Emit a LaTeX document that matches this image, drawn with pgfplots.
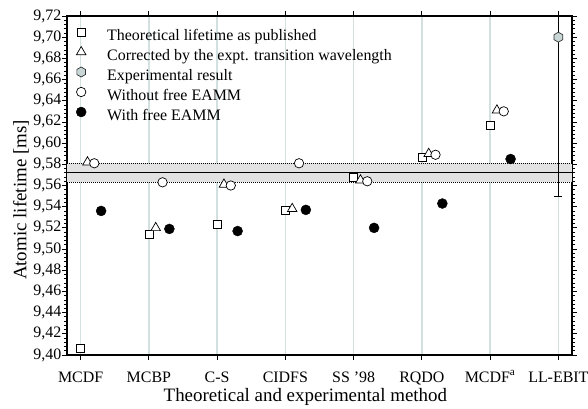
\documentclass[border=0pt]{standalone}
\usepackage{fontspec}
\setmainfont{Liberation Serif}
\usepackage{pgfplots}
\pgfplotsset{compat=1.18}
\definecolor{gridc}{HTML}{D3E0E0}
\definecolor{bandc}{HTML}{E2E2E2}
\definecolor{hexc}{HTML}{C8D6D6}
\pgfdeclareplotmark{hexagon}{%
  \pgfpathmoveto{\pgfpointpolar{90}{\pgfplotmarksize}}%
  \pgfpathlineto{\pgfpointpolar{150}{\pgfplotmarksize}}%
  \pgfpathlineto{\pgfpointpolar{210}{\pgfplotmarksize}}%
  \pgfpathlineto{\pgfpointpolar{270}{\pgfplotmarksize}}%
  \pgfpathlineto{\pgfpointpolar{330}{\pgfplotmarksize}}%
  \pgfpathlineto{\pgfpointpolar{30}{\pgfplotmarksize}}%
  \pgfpathclose
  \pgfusepathqfillstroke
}
\begin{document}
\begin{tikzpicture}
\begin{axis}[
  scale only axis, width=505bp, height=339bp,
  xmin=-0.2, xmax=7.2, ymin=9.40, ymax=9.72,
  xtick={0,1,2,3,4,5,6,7},
  xticklabels={MCDF,MCBP,C-S,CIDFS,{SS '98},RQDO,MCDF\textsuperscript{a},LL-EBIT},
  ytick={9.40,9.42,9.44,9.46,9.48,9.50,9.52,9.54,9.56,9.58,9.60,9.62,9.64,9.66,9.68,9.70,9.72},
  minor y tick num=4,
  tick align=outside, major tick length=5bp, minor tick length=3bp,
  every tick/.style={black, line width=0.8bp},
  xmajorgrids, grid style={gridc, line width=1.3bp},
  axis line style={line width=1.1bp},
  /pgf/number format/assume math mode=true,
  tick label style={font=\fontsize{16}{16}\selectfont},
  yticklabel style={inner xsep=0.5bp, /pgf/number format/.cd, use comma, fixed, fixed zerofill, precision=2},
  xticklabel style={anchor=base, yshift=-22bp},
  label style={font=\fontsize{19}{19}\selectfont},
  xlabel={Theoretical and experimental method},
  ylabel={Atomic lifetime [ms]},
  xlabel style={at={(axis description cs:0.472,-0.1357)}, anchor=base, inner sep=0pt},
  ylabel style={at={(axis description cs:-0.0802,0.457)}, anchor=base, rotate=0, inner sep=0pt},
  legend style={at={(axis description cs:0,1)}, anchor=north west, xshift=8bp, yshift=-9.8bp,
    draw=none, fill=none, inner sep=0pt, font=\fontsize{16}{16}\selectfont,
    nodes={inner sep=0pt, text height=11.5bp, text depth=3.5bp},
    row sep=2bp, column sep=20bp},
  legend cell align=left,
  legend image code/.code={\path[draw=none, fill=none] (-6bp,-1.5bp) rectangle (6bp,10.5bp); \draw[#1] plot coordinates {(0bp,4.5bp)};},
]
% band
\addplot[fill=bandc, draw=none, forget plot] coordinates {(-0.2,9.563) (7.2,9.563) (7.2,9.581) (-0.2,9.581)} -- cycle;
\addplot[black, dash pattern=on 1.2bp off 0.8bp, line width=0.8bp, forget plot] coordinates {(-0.2,9.563) (7.2,9.563)};
\addplot[black, dash pattern=on 1.2bp off 0.8bp, line width=0.8bp, forget plot] coordinates {(-0.2,9.581) (7.2,9.581)};
\addplot[black, line width=1bp, forget plot] coordinates {(-0.2,9.572) (7.2,9.572)};
% theoretical as published
\addplot[only marks, mark=square*, mark size=4bp, mark options={fill=white, draw=black, line width=0.7bp}]
  coordinates {(0,9.406) (1,9.514) (2,9.523) (3,9.537) (4,9.568) (5,9.587) (6,9.617)};
\addlegendentry{Theoretical lifetime as published}
% corrected
\addplot[only marks, mark=triangle*, mark size=5.5bp, mark options={fill=white, draw=black, line width=0.7bp}]
  coordinates {(0.1,9.582) (1.1,9.520) (2.1,9.561) (3.1,9.538) (4.1,9.565) (5.1,9.590) (6.1,9.631)};
\addlegendentry{Corrected by the expt. transition wavelength}
% experimental
\addplot[only marks, mark=hexagon, mark size=5bp, mark options={fill=hexc, draw=black!80, line width=0.7bp},
  error bars/.cd, y dir=both, y explicit, error mark=-,
  error bar style={black, line width=0.9bp},
  error mark options={rotate=90, black, line width=0.9bp, mark size=4bp}]
  coordinates {(7,9.700) +- (0,0.150)};
\addlegendentry{Experimental result}
% without free EAMM
\addplot[only marks, mark=*, mark size=4.7bp, mark options={fill=white, draw=black, line width=0.7bp}]
  coordinates {(0.2,9.581) (1.2,9.563) (2.2,9.560) (3.2,9.581) (4.2,9.564) (5.2,9.589) (6.2,9.630)};
\addlegendentry{Without free EAMM}
% with free EAMM
\addplot[only marks, mark=*, mark size=5bp, mark options={fill=black, draw=black}]
  coordinates {(0.3,9.536) (1.3,9.519) (2.3,9.517) (3.3,9.537) (4.3,9.520) (5.3,9.543) (6.3,9.585)};
\addlegendentry{With free EAMM}
\end{axis}
\pgfresetboundingbox
\path[use as bounding box] ([shift={(-67bp,-53bp)}]current axis.south west) rectangle ([shift={(16bp,16bp)}]current axis.north east);
\end{tikzpicture}
\end{document}
